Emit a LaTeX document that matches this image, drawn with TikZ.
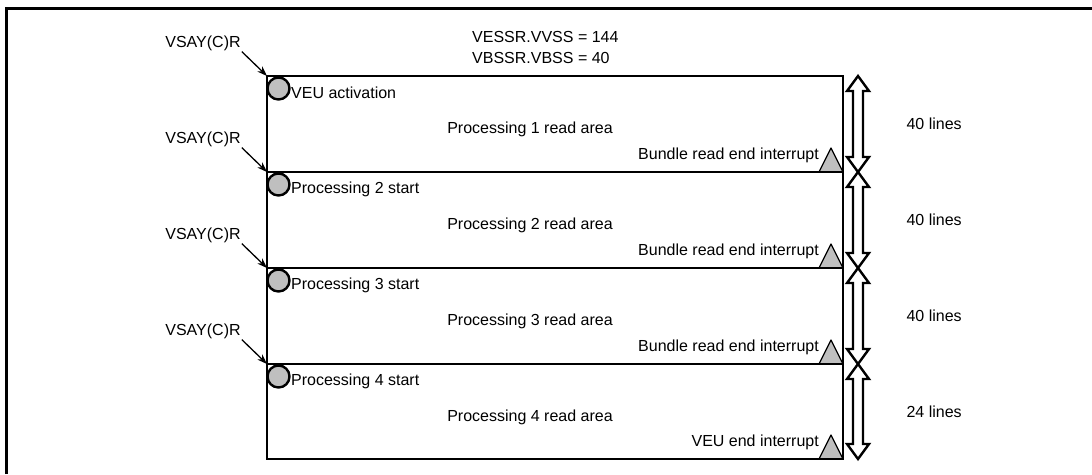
\documentclass[tikz,border=0pt]{standalone}
\usepackage{fontspec}
\setmainfont{Liberation Sans}
\usetikzlibrary{arrows.meta}
\begin{document}
\begin{tikzpicture}[
        x=1pt, y=-1pt,
        font=\fontsize{16}{21}\selectfont,
        frame/.style   ={line width=3pt},
        area/.style    ={draw, line width=2pt},
        startdot/.style={draw, circle, fill=gray!50, line width=2.4pt, minimum size=22pt, inner sep=0pt},
        intmark/.style ={draw, fill=gray!50, line width=1.2pt, line join=round},
        span/.style    ={draw, fill=white, line width=2.4pt, line join=miter},
        arr/.style     ={-{Stealth[length=10pt, width=7pt]}, line width=1.3pt},
        lbl/.style     ={inner sep=1pt},
    ]
    \useasboundingbox (0,0) rectangle (1092,474);

    %% Outer frame (top and left only)
    \draw[frame] (6.5,474) -- (6.5,8) -- (1092,8);

    %% Register settings
    \node[anchor=west, align=left, inner sep=0pt] (regs) at (472,47)
        {VESSR.VVSS = 144\\VBSSR.VBSS = 40};

    %% Read areas
    \def\bl{267}   % left edge of areas
    \def\br{843}   % right edge of areas
    \foreach \i/\t/\b/\first/\last/\n in {
            1/76/172/VEU activation/Bundle read end interrupt/40,
            2/172/268/Processing 2 start/Bundle read end interrupt/40,
            3/268/364/Processing 3 start/Bundle read end interrupt/40,
            4/364/459/Processing 4 start/VEU end interrupt/24} {
        \coordinate (c\i) at (\bl,\t);
        \draw[intmark] (\br-24,\b) -- (\br-12,\b-24) -- (\br,\b) -- cycle;
        \draw[area] (\bl,\t) rectangle (\br,\b);
        \node[startdot] (dot\i) at (\bl+11.5,\t+12.5) {};
        \node[anchor=west, inner sep=0pt] (start\i) at (291,\t+17) {\first};
        \node (read\i) at (530,\t+53) {Processing \i\ read area};
        \node[anchor=east, inner sep=0pt] (int\i) at (819,\b-17) {\last};

        %% VSAY(C)R trigger
        \node[lbl] (vsay\i) at (203,\t-33) {VSAY(C)R};
        \draw[arr] (vsay\i.south east) -- (c\i);

        %% Line count
        \draw[span] (858,\t) -- (869,\t+15) -- (863,\t+15) -- (863,\b-15) -- (869,\b-15)
            -- (858,\b) -- (847,\b-15) -- (853,\b-15) -- (853,\t+15) -- (847,\t+15) -- cycle;
        \node[anchor=west] (n\i) at (903,{(\t+\b)/2}) {\n\ lines};
    }
\end{tikzpicture}
\end{document}
